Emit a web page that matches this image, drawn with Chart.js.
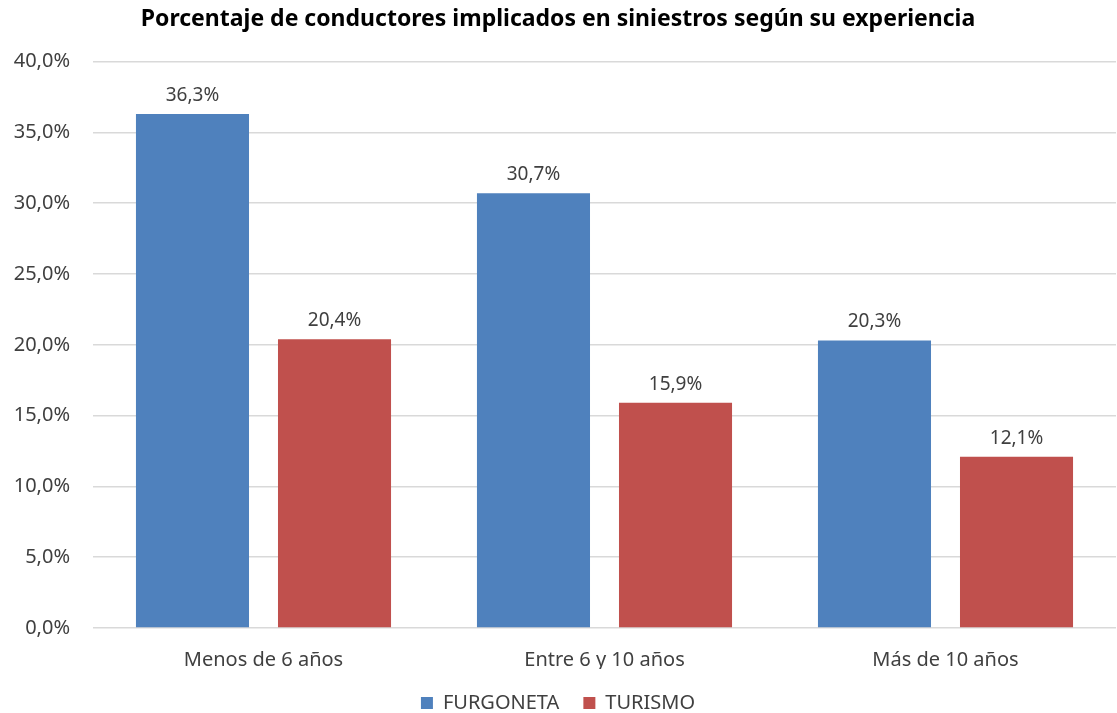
<!DOCTYPE html>
<html>
<head>
<meta charset="utf-8">
<script src="https://cdn.jsdelivr.net/npm/chart.js@4/dist/chart.umd.min.js"></script>
<style>
    body { margin: 0; background: #ffffff; }
    #grafico-container { width: 1117px; height: 713px; }
</style>
</head>
<body>
<div id="grafico-container">
    <canvas id="chart-experiencia"></canvas>
</div>
<script>
// Dados do gráfico
const categorias = ['Menos de 6 años', 'Entre 6 y 10 años', 'Más de 10 años'];
const furgoneta = [36.3, 30.7, 20.3];
const turismo = [20.4, 15.9, 12.1];

function formatarPct(v) {
    return v.toFixed(1).replace('.', ',') + '%';
}

// Plugin simples para escrever os valores acima das barras
const rotulosBarras = {
    id: 'rotulosBarras',
    afterDatasetsDraw(chart) {
        const ctx = chart.ctx;
        ctx.save();
        ctx.font = '19px "Noto Sans"';
        ctx.fillStyle = '#404040';
        ctx.textAlign = 'center';
        ctx.textBaseline = 'bottom';
        chart.data.datasets.forEach(function (ds, i) {
            chart.getDatasetMeta(i).data.forEach(function (bar, j) {
                ctx.fillText(formatarPct(ds.data[j]), bar.x, bar.y - 9);
            });
        });
        ctx.restore();
    }
};

const dados = {
    labels: categorias,
    datasets: [
        { label: 'FURGONETA', data: furgoneta, backgroundColor: '#4F81BD', borderWidth: 0 },
        { label: 'TURISMO', data: turismo, backgroundColor: '#C0504D', borderWidth: 0 }
    ]
};

const config = {
    type: 'bar',
    data: dados,
    plugins: [rotulosBarras],
    options: {
        responsive: true,
        maintainAspectRatio: false,
        animation: false,
        categoryPercentage: 0.833,
        barPercentage: 0.796,
        layout: { padding: { left: 0, right: 1, top: 0, bottom: -10 } },
        plugins: {
            title: {
                display: true,
                text: 'Porcentaje de conductores implicados en siniestros según su experiencia',
                color: '#000000',
                font: { family: 'Noto Sans', size: 23, weight: 'bold' },
                padding: { top: 6, bottom: 28 }
            },
            legend: {
                position: 'bottom',
                labels: {
                    color: '#404040',
                    font: { family: 'Noto Sans', size: 20 },
                    boxWidth: 12,
                    boxHeight: 12,
                    padding: 24
                }
            },
            tooltip: { enabled: false }
        },
        scales: {
            x: {
                grid: { display: false },
                border: { display: false },
                ticks: { color: '#404040', font: { family: 'Noto Sans', size: 20 }, padding: 12 },
                afterFit: function (scale) { scale.height = 41; }
            },
            y: {
                min: 0,
                max: 40,
                ticks: {
                    stepSize: 5,
                    color: '#404040',
                    font: { family: 'Noto Sans', size: 20 },
                    padding: 23,
                    callback: function (v) { return formatarPct(v); }
                },
                grid: { color: '#d9d9d9', lineWidth: 1.5, drawTicks: false },
                border: { display: false },
                afterFit: function (scale) { scale.width = 93; }
            }
        }
    }
};

let myChart = new Chart(document.getElementById('chart-experiencia'), config);
</script>
</body>
</html>
